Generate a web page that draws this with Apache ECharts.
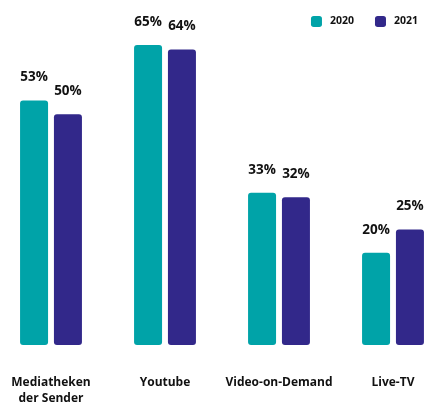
<!DOCTYPE html>
<html><head><meta charset="utf-8">
<script src="https://cdn.jsdelivr.net/npm/echarts@6/dist/echarts.min.js"></script>
<style>html,body{margin:0;padding:0;background:#fff}#c{width:428px;height:403px}</style>
</head><body><div id="c"></div>
<script>
const categories = ["Mediatheken\nder Sender", "Youtube", "Video-on-Demand", "Live-TV"];
const values2020 = [53, 65, 33, 20];
const values2021 = [50, 64, 32, 25];
const seriesNames = ["2020", "2021"];

const FONT = 'Open Sans';
const chart = echarts.init(document.getElementById('c'));
const labelCfg = {
  show: true, position: 'top', distance: 16,
  formatter: '{c}%', color: '#111', fontWeight: 'bold', fontSize: 13.5,
  fontFamily: FONT
};
chart.setOption({
  animation: false,
  legend: {
    right: 5, top: 11, itemWidth: 11, itemHeight: 11, itemGap: 21,
    textStyle: {fontWeight: 'bold', fontSize: 10.5, color: '#111', fontFamily: FONT, padding: [0, 0, 0, 3]},
    data: seriesNames.map(n => ({name: n, icon: 'roundRect'}))
  },
  grid: {left: -6, width: 456, top: 45, height: 300, containLabel: false, outerBoundsMode: 'none'},
  xAxis: {
    type: 'category', data: categories,
    axisLine: {show: false}, axisTick: {show: false},
    axisLabel: {margin: 30, color: '#111', fontWeight: 'bold', fontSize: 12, lineHeight: 16, fontFamily: FONT, interval: 0}
  },
  yAxis: {type: 'value', min: 0, max: 65, show: false, splitLine: {show: false}},
  series: [
    {name: seriesNames[0], type: 'bar', data: values2020, barWidth: 28, barGap: '21%',
     itemStyle: {color: '#00A3A8', borderRadius: 3}, label: labelCfg},
    {name: seriesNames[1], type: 'bar', data: values2021, barWidth: 28,
     itemStyle: {color: '#32288A', borderRadius: 3}, label: labelCfg}
  ]
});
</script></body></html>
